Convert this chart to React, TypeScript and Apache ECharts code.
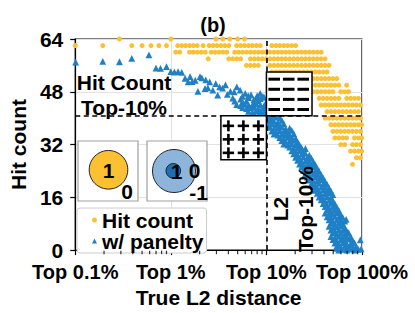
import React, { useEffect, useRef } from "react";
import * as echarts from "echarts";

const FONT = "'Liberation Sans', Arial, Helvetica, sans-serif";

const xTicks = [0.1, 1, 10, 100];
const xTickLabels = ["Top 0.1%", "Top 1%", "Top 10%", "Top 100%"];
const yMin = 0;
const yMax = 64;
const yInterval = 16;
const minorTicks = [0.2, 0.3, 0.4, 0.5, 0.6, 0.7, 0.8, 0.9, 2, 3, 4, 5, 6, 7, 8, 9, 20, 30, 40, 50, 60, 70, 80, 90];

const l2Threshold = 10;
const hitThreshold = 40.7;

// yellow "Hit count" points: [hit count, list of x (%)]
const hitRows: [number, number[]][] = [
  [64, [0.29, 1.0, 2.97, 3.5, 4.14, 5.0, 5.9]],
  [62, [0.1, 0.194, 0.39, 0.5, 0.62, 0.75, 0.9, 1.18, 1.3, 1.43, 1.57, 1.72, 1.89, 2.18, 2.52, 2.77, 3.04, 3.34, 3.67, 4.04, 4.88, 5.37, 5.9, 6.49, 7.13, 7.84, 8.62, 11.4, 12.6, 13.8, 15.2, 16.7, 18.4, 20.2]],
  [60, [1.125, 1.24, 1.57, 1.72, 1.89, 2.08, 2.29, 2.64, 2.9, 3.19, 3.5, 3.85, 4.66, 5.12, 5.63, 6.19, 6.8, 7.48, 8.22, 9.03, 9.93, 10.9, 12.0, 13.2, 14.5, 15.9, 17.5, 19.3, 21.2, 23.3, 25.6, 28.1, 30.9, 34.0, 37.4]],
  [58, [2.46, 4.04, 4.44, 4.88, 5.37, 6.8, 7.48, 8.22, 9.03, 9.93, 10.9, 12.0, 13.2, 14.5, 15.9, 17.5, 19.3, 21.2, 23.3, 25.6, 28.1, 30.9, 34.0, 37.4, 41.1]],
  [56, [6.19, 6.8, 7.48, 8.22, 10.9, 12.0, 13.2, 14.5, 15.9, 17.5, 19.3, 21.2, 23.3, 25.6, 28.1, 30.9, 34.0, 37.4, 41.1, 45.2]],
  [54, [11.4, 12.6, 13.8, 15.2, 16.7, 18.4, 20.2, 22.2, 24.4, 26.8, 29.5, 32.4, 35.6, 39.2, 43.1]],
  [52, [23.3, 25.6, 28.1, 30.9, 34.0, 37.4, 41.1, 45.2, 49.6, 54.5]],
  [50, [32.4, 35.6, 39.2, 43.1, 47.3, 52.0, 57.2, 69.1]],
  [48, [30.9, 34.0, 37.4, 41.1, 45.2, 49.6, 59.9, 65.9, 72.4]],
  [46, [35.6, 39.2, 43.1, 47.3, 52.0, 57.2, 69.1, 76.0, 83.5, 91.8]],
  [44, [37.4, 41.1, 45.2, 49.6, 54.5, 59.9, 65.9, 72.4, 79.6, 87.5, 96.2]],
  [42, [43.1, 47.3, 52.0, 57.2, 62.9, 69.1, 76.0, 83.5, 91.8]],
  [40, [41.1, 45.2, 49.6, 54.5, 59.9, 65.9, 72.4, 79.6, 87.5, 96.2]],
  [38, [47.3, 52.0, 57.2, 62.9, 69.1, 76.0, 83.5, 91.8, 99]],
  [36, [49.6, 54.5, 59.9, 65.9, 72.4, 79.6, 87.5, 96.2]],
  [34, [52.0, 57.2, 62.9, 69.1, 83.5, 91.8, 99]],
  [32, [59.9, 65.9, 79.6, 87.5, 96.2]],
  [30, [76.0, 83.5, 91.8, 99]],
  [28, [87.5, 96.2]],
  [26, [79.6]],
];

// blue "w/ panelty" points: [x (%), hit count]
const penalty: [number, number][] = [
  [0.101, 57], [0.194, 57.2], [0.29, 57.1], [0.39, 58.1], [0.59, 59.2], [0.7, 55.2], [0.78, 55.1], [0.9, 55.6],
  [1.0, 54.1], [1.09, 54.0], [1.19, 54.1], [1.3, 53.9], [1.41, 52.1], [1.52, 51.0], [1.59, 52.6], [1.67, 51.1],
  [1.8, 51.5], [2.02, 52.6], [2.11, 52.2], [2.32, 51.6], [2.55, 51.0], [1.92, 48.1], [2.28, 49.0], [2.44, 49.2],
  [2.75, 48.5], [2.95, 50.5], [3.24, 49.5], [3.48, 49.1], [3.73, 50.1], [3.09, 47.0], [3.9, 47.2], [4.2, 48.1],
  [4.6, 48.0], [4.9, 49.5], [5.3, 48.5], [5.6, 46.6], [6.0, 47.5], [6.45, 46.8], [6.9, 47.1], [7.4, 45.6],
  [8.0, 46.8], [8.6, 47.5], [9.2, 46.6],
  [4.44, 46.1], [5.37, 45.8], [6.49, 46.2], [7.84, 46.0], [8.62, 45.9], [9.47, 46.3],
  [4.66, 45.2], [5.63, 44.9], [6.19, 45.1], [7.48, 45.0], [8.22, 45.3], [9.93, 44.8],
  [4.88, 44.1], [5.37, 43.8], [5.9, 44.2], [6.49, 44.0], [7.13, 43.9], [7.84, 44.3], [8.62, 44.1], [9.47, 43.8], [10.4, 44.0],
  [5.63, 43.2], [6.19, 42.9], [6.8, 43.1], [7.48, 43.3], [8.22, 42.8], [9.03, 43.0], [9.93, 43.2], [10.9, 42.9],
  [6.49, 42.1], [7.13, 41.8], [7.84, 42.2], [8.62, 42.0], [9.47, 41.9], [10.4, 42.3], [11.4, 42.1], [12.6, 41.8],
  [7.48, 41.2], [8.22, 40.9], [9.03, 41.1], [9.93, 41.3], [10.9, 40.8], [12.0, 41.0], [13.2, 41.2],
  [7.84, 40.1], [8.62, 39.8], [9.47, 40.2], [10.4, 40.0], [11.4, 39.9], [12.6, 40.3], [13.8, 40.1],
  [9.03, 39.2], [9.93, 38.9], [10.9, 39.1], [12.0, 39.0], [13.2, 38.8], [14.5, 39.3],
  [9.47, 38.1], [10.4, 37.8], [11.4, 38.2], [12.6, 38.0], [13.8, 37.9], [15.2, 38.3],
  [10.9, 37.2], [12.0, 36.9], [13.2, 37.1], [14.5, 37.3], [15.9, 36.8], [17.5, 37.0],
  [11.4, 36.1], [12.6, 35.8], [13.8, 36.2], [15.2, 36.0], [16.7, 35.9], [18.4, 36.3],
  [12.0, 35.2], [13.2, 34.9], [14.5, 35.1], [15.9, 35.0], [17.5, 34.8], [19.3, 35.3],
  [13.8, 34.1], [15.2, 33.8], [16.7, 34.2], [18.4, 34.0], [20.2, 33.9],
  [14.5, 33.2], [15.9, 32.9], [17.5, 33.1], [19.3, 33.3], [21.2, 32.8],
  [15.2, 32.1], [16.7, 31.8], [18.4, 32.2], [20.2, 32.0], [22.2, 31.9],
  [17.5, 31.2], [19.3, 30.9], [21.2, 31.1], [23.3, 31.0], [25.6, 30.8],
  [18.4, 30.1], [20.2, 29.8], [22.2, 30.2], [24.4, 30.0],
  [19.3, 29.2], [21.2, 28.9], [23.3, 29.1], [25.6, 29.3], [28.1, 28.8],
  [20.2, 28.1], [22.2, 27.8], [24.4, 28.2], [26.8, 28.0], [29.5, 27.9],
  [21.2, 27.2], [23.3, 26.9], [25.6, 27.1], [28.1, 27.0], [30.9, 26.8],
  [22.2, 26.1], [24.4, 25.8], [26.8, 26.2], [29.5, 26.0], [32.4, 25.9],
  [23.3, 25.2], [25.6, 24.9], [28.1, 25.1], [30.9, 25.3], [34.0, 24.8],
  [24.4, 24.1], [26.8, 23.8], [29.5, 24.2], [32.4, 24.0], [35.6, 23.9],
  [25.6, 23.2], [28.1, 22.9], [30.9, 23.1], [34.0, 23.0], [37.4, 22.8],
  [26.8, 22.1], [29.5, 21.8], [32.4, 22.2], [35.6, 22.0], [39.2, 21.9],
  [28.1, 21.2], [30.9, 20.9], [34.0, 21.1], [37.4, 21.3], [41.1, 20.8],
  [29.5, 20.1], [32.4, 19.8], [35.6, 20.2], [39.2, 20.0], [43.1, 19.9],
  [30.9, 19.2], [34.0, 18.9], [37.4, 19.1], [41.1, 19.0], [45.2, 18.8],
  [32.4, 18.1], [35.6, 17.8], [39.2, 18.2], [43.1, 18.0], [47.3, 17.9],
  [34.0, 17.2], [37.4, 16.9], [41.1, 17.1], [45.2, 17.3], [49.6, 16.8],
  [35.6, 16.1], [39.2, 15.8], [43.1, 16.2], [47.3, 16.0],
  [37.4, 15.2], [41.1, 14.9], [45.2, 15.1], [49.6, 15.0],
  [39.2, 14.1], [43.1, 13.8], [47.3, 14.2], [52.0, 14.0],
  [41.1, 13.2], [45.2, 12.9], [49.6, 13.1], [54.5, 13.0],
  [43.1, 12.1], [47.3, 11.8], [52.0, 12.2], [57.2, 12.0],
  [41.1, 11.2], [45.2, 10.9], [49.6, 11.1], [54.5, 11.3], [59.9, 10.8],
  [43.1, 10.1], [47.3, 9.8], [52.0, 10.2], [57.2, 10.0], [62.9, 9.9],
  [45.2, 9.2], [49.6, 8.9], [54.5, 9.1], [59.9, 9.0], [65.9, 8.8], [68.3, 9.3],
  [47.3, 8.1], [52.0, 7.9], [57.2, 8.2], [62.9, 8.0],
  [45.2, 7.2], [49.6, 6.9], [54.5, 7.1], [59.9, 7.3], [65.9, 6.8],
  [47.3, 6.1], [52.0, 5.8], [57.2, 6.2], [62.9, 6.0], [69.1, 5.9],
  [49.6, 5.2], [54.5, 4.9], [59.9, 5.1], [65.9, 4.8], [72.4, 5.3],
  [47.3, 4.1], [52.0, 3.8], [57.2, 4.2], [62.9, 3.9], [69.1, 4.0], [76.0, 4.1],
  [49.6, 3.2], [54.5, 2.9], [59.9, 3.1], [65.9, 2.8], [72.4, 3.3], [79.6, 3.0], [96, 3.1],
  [52.0, 2.1], [57.2, 1.8], [62.9, 2.3], [69.1, 2.0], [76.0, 1.9], [83.5, 2.2],
  [54.5, 1.2], [59.9, 0.8], [65.9, 1.1], [72.4, 0.9], [79.6, 1.3], [87.5, 1.0],
  [54.5, 0.5], [57.2, 0], [62.9, 0.2], [69.1, 0], [76.0, 0.3], [83.5, 0], [91.8, 0.2], [98, 0.4],
];

// annotation boxes in data space
const minusBox = { x0: 10, x1: 30, y0: 40.7, y1: 54 };
const plusBox = { x0: 3.34, x1: 10, y0: 27.4, y1: 40.7 };

const YELLOW = "#fcc132";
const BLUE = "#1f80c6";

export default function App() {
  const ref = useRef<HTMLDivElement>(null);

  useEffect(() => {
    document.body.style.margin = "0";
    const chart = echarts.init(ref.current!, null, { renderer: "svg" });

    const hitData: [number, number][] = [];
    hitRows.forEach(([v, xs]) => xs.forEach((x) => hitData.push([x, v])));

    const fmt = (v: number) => {
      const i = xTicks.findIndex((t) => Math.abs(Math.log10(t) - Math.log10(v)) < 0.01);
      return i >= 0 ? xTickLabels[i] : "";
    };

    const option: any = {
      animation: false,
      backgroundColor: "#fff",
      textStyle: { fontFamily: FONT },
      grid: { left: 70, right: 53, top: 39, bottom: 57, show: true, borderColor: "#000", borderWidth: 1.2, backgroundColor: "transparent" },
      legend: {
        data: ["Hit count", "w/ panelty"],
        orient: "vertical",
        left: 77,
        top: 208,
        itemWidth: 5,
        itemHeight: 5,
        itemGap: 0,
        padding: [1.5, 3, 1.5, 15],
        backgroundColor: "#fff",
        borderColor: "#cccccc",
        borderWidth: 1,
        borderRadius: 3,
        textStyle: { fontSize: 21, fontWeight: "bold", color: "#000", fontFamily: FONT, lineHeight: 20 },
      },
      xAxis: {
        type: "log",
        logBase: 10,
        min: xTicks[0],
        max: xTicks[xTicks.length - 1],
        axisLine: { show: true, lineStyle: { color: "#000", width: 1.2 } },
        axisTick: { show: true, length: 5, lineStyle: { color: "#000", width: 1.2 } },
        axisLabel: { formatter: fmt, fontSize: 20, fontWeight: "bold", color: "#000", margin: 12, fontFamily: FONT },
        splitLine: { show: true, lineStyle: { color: "#e2e2e2", width: 1 } },
        name: "True L2 distance",
        nameLocation: "middle",
        nameGap: 35,
        nameTextStyle: { fontSize: 21, fontWeight: "bold", color: "#000", fontFamily: FONT },
      },
      yAxis: {
        type: "value",
        min: yMin,
        max: yMax,
        interval: yInterval,
        axisLine: { show: true, lineStyle: { color: "#000", width: 1.2 } },
        axisTick: { show: true, length: 5, lineStyle: { color: "#000", width: 1.2 } },
        axisLabel: { fontSize: 21, fontWeight: "bold", color: "#000", margin: 12, fontFamily: FONT },
        splitLine: { show: true, lineStyle: { color: "#e2e2e2", width: 1 } },
        name: "Hit count",
        nameLocation: "middle",
        nameGap: 42,
        nameRotate: 90,
        nameTextStyle: { fontSize: 21, fontWeight: "bold", color: "#000", fontFamily: FONT },
      },
      series: [
        {
          name: "Hit count",
          type: "scatter",
          data: hitData,
          symbol: "circle",
          symbolSize: 5,
          itemStyle: { color: YELLOW, opacity: 1 },
          z: 2,
        },
        {
          name: "w/ panelty",
          type: "scatter",
          data: penalty,
          symbol: "triangle",
          symbolSize: 6.8,
          itemStyle: { color: BLUE, opacity: 1 },
          z: 3,
        },
        {
          name: "minor",
          type: "scatter",
          data: minorTicks.map((v) => [v, 0]),
          symbol: "rect",
          symbolSize: [1.2, 3.5],
          symbolOffset: [0, 2.3],
          clip: false,
          silent: true,
          itemStyle: { color: "#000" },
          z: 5,
          markLine: {
            silent: true,
            symbol: "none",
            label: { show: false },
            lineStyle: { color: "#000", type: [5, 3.5], width: 1.6 },
            data: [{ xAxis: l2Threshold }, { yAxis: hitThreshold }],
          },
        },
      ],
    };

    chart.setOption(option);

    const px = (x: number, y: number) => chart.convertToPixel({ gridIndex: 0 }, [x, y]) as number[];
    const els: any[] = [];
    const Z = 100;

    // minus box
    const m0 = px(minusBox.x0, minusBox.y1);
    const m1 = px(minusBox.x1, minusBox.y0);
    els.push({ type: "rect", z: Z, shape: { x: m0[0], y: m0[1], width: m1[0] - m0[0], height: m1[1] - m0[1] }, style: { fill: "#fff", stroke: "#000", lineWidth: 1.5 } });
    for (let i = 0; i < 3; i++) {
      for (let j = 0; j < 4; j++) {
        els.push({ type: "rect", z: Z + 1, shape: { x: m0[0] + 2 + i * 14.5, y: m0[1] + 7.2 + j * 10.1 - 1.5, width: 11.6, height: 3 }, style: { fill: "#000" } });
      }
    }
    // plus box
    const p0 = px(plusBox.x0, plusBox.y1);
    const p1 = px(plusBox.x1, plusBox.y0);
    els.push({ type: "rect", z: Z, shape: { x: p0[0], y: p0[1], width: p1[0] - p0[0], height: p1[1] - p0[1] }, style: { fill: "#fff", stroke: "#000", lineWidth: 1.5 } });
    for (let i = 0; i < 3; i++) {
      for (let j = 0; j < 3; j++) {
        const cx = p0[0] + 7.5 + i * 15;
        const cy = p0[1] + 10 + j * 13.5;
        els.push({ type: "rect", z: Z + 1, shape: { x: cx - 5.7, y: cy - 1.3, width: 11.4, height: 2.6 }, style: { fill: "#000" } });
        els.push({ type: "rect", z: Z + 1, shape: { x: cx - 1.3, y: cy - 5.5, width: 2.6, height: 11 }, style: { fill: "#000" } });
      }
    }

    const txt = (x: number, y: number, text: string, size: number, extra: any = {}) => ({
      type: "text",
      z: Z + 2,
      x,
      y,
      ...extra,
      style: { text, fill: "#000", font: `bold ${size}px ${FONT}`, textAlign: "center", textVerticalAlign: "middle", ...(extra.style || {}) },
    });

    // title
    els.push(txt(213, 25, "(b)", 20));
    // annotations
    els.push(txt(124, 95, "Hit Count\nTop-10%", 21, { style: { lineHeight: 25 } }));
    els.push(txt(292.5, 209, "L2\nTop-10%", 21, { rotation: Math.PI / 2, style: { lineHeight: 25 } }));

    // insets
    els.push({ type: "rect", z: Z, shape: { x: 78, y: 141, width: 60, height: 60 }, style: { fill: "#fff", stroke: "#a0a0a0", lineWidth: 1.2 } });
    els.push({ type: "circle", z: Z + 1, shape: { cx: 108.5, cy: 169.8, r: 19.3 }, style: { fill: YELLOW, stroke: "#222", lineWidth: 1 } });
    els.push(txt(108.5, 170.5, "1", 21));
    els.push(txt(127, 191.5, "0", 21));

    els.push({ type: "rect", z: Z, shape: { x: 147, y: 141, width: 60, height: 60 }, style: { fill: "#fff", stroke: "#a0a0a0", lineWidth: 1.2 } });
    els.push({ type: "circle", z: Z + 1, shape: { cx: 174, cy: 171, r: 21.5 }, style: { fill: "#8db5dc", stroke: "#222", lineWidth: 1 } });
    els.push({ type: "circle", z: Z + 1, shape: { cx: 173.3, cy: 170.8, r: 7.3 }, style: { fill: "#1f6db5", stroke: "#222", lineWidth: 1 } });
    els.push(txt(176.5, 171, "1", 21));
    els.push(txt(194.7, 170.5, "0", 21));
    els.push(txt(198.5, 192, "-1", 21));

    chart.setOption({ graphic: els });

    return () => chart.dispose();
  }, []);

  return <div ref={ref} style={{ width: 415, height: 313 }} />;
}
